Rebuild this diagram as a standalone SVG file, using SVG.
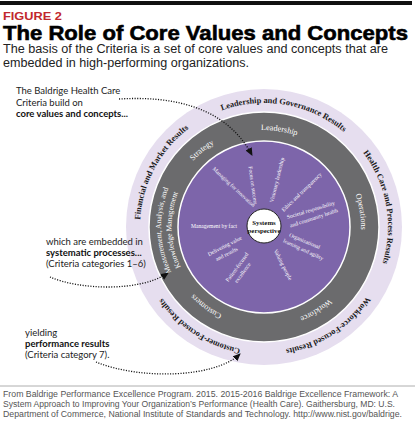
<svg xmlns="http://www.w3.org/2000/svg" width="415" height="425" viewBox="0 0 415 425">
<style>
.ann{font-family:Lato,"Open Sans",sans-serif;font-size:9.5px;fill:#222}
.annb{font-weight:bold;fill:#111}
.outer{font-family:"Liberation Serif",serif;font-weight:bold;font-size:8.4px;fill:#1a1a1a}
.gray{font-family:"Liberation Serif",serif;font-size:8.2px;fill:#fff}
.inner{font-family:"Liberation Serif",serif;font-size:5.6px;fill:#fff}
.foot{font-family:"Liberation Sans",Arial,sans-serif;font-size:8.3px;fill:#555}
.dot{fill:none;stroke:#111;stroke-width:1.3;stroke-dasharray:1.1 1.5}
</style>
<defs>
<marker id="ah" markerUnits="userSpaceOnUse" markerWidth="9" markerHeight="8" refX="7" refY="3.5" orient="auto"><path d="M0,0 L8,3.5 L0,7 z" fill="#111"/></marker>
<path id="T124" d="M264,103 A124,124 0 1 1 264,351 A124,124 0 1 1 264,103"/>
<path id="B124" d="M264,351 A124,124 0 1 1 264,103 A124,124 0 1 1 264,351"/>
<path id="T97" d="M264,130 A97,97 0 1 1 264,324 A97,97 0 1 1 264,130"/>
<path id="B97" d="M264,324 A97,97 0 1 1 264,130 A97,97 0 1 1 264,324"/>
<path id="B103" d="M264,330 A103,103 0 1 1 264,124 A103,103 0 1 1 264,330"/>
<path id="B92" d="M264,319.5 A92.5,92.5 0 1 1 264,134.5 A92.5,92.5 0 1 1 264,319.5"/>
</defs>
<rect width="415" height="425" fill="#fff"/>
<g id="header">
<rect x="0" y="1" width="412" height="4" fill="#111"/>
<text x="3" y="20" font-family="Liberation Sans,Arial,sans-serif" font-weight="bold" font-size="10.5" fill="#c1272d" textLength="59" lengthAdjust="spacingAndGlyphs">FIGURE 2</text>
<text x="3" y="40" font-family="Liberation Sans,Arial,sans-serif" font-weight="bold" font-size="21" fill="#000" stroke="#000" stroke-width="0.6" textLength="405" lengthAdjust="spacingAndGlyphs">The Role of Core Values and Concepts</text>
<text x="3" y="53" font-family="Liberation Sans,Arial,sans-serif" font-size="12" fill="#222" textLength="385" lengthAdjust="spacingAndGlyphs">The basis of the Criteria is a set of core values and concepts that are</text>
<text x="3" y="67" font-family="Liberation Sans,Arial,sans-serif" font-size="12" fill="#222" textLength="246" lengthAdjust="spacingAndGlyphs">embedded in high-performing organizations.</text>
</g>
<g id="rings">
<circle cx="264" cy="227" r="138" fill="#e6deef"/>
<circle cx="264" cy="227" r="115" fill="#6b6b6d" stroke="#fff" stroke-width="1.5"/>
<circle cx="264" cy="227" r="86" fill="#7d65aa" stroke="#fff" stroke-width="1.5"/>
</g>
<g id="results-labels" class="outer" text-anchor="middle">
<text><textPath href="#B124" startOffset="52.78%">Leadership and Governance Results</textPath></text>
<text><textPath href="#T124" startOffset="22.22%">Health Care and Process Results</textPath></text>
<text><textPath href="#T124" startOffset="40.83%">Workforce-Focused Results</textPath></text>
<text><textPath href="#T124" startOffset="59.17%">Customer-Focused Results</textPath></text>
<text><textPath href="#B124" startOffset="32.78%">Financial and Market Results</textPath></text>
</g>
<g id="process-labels" class="gray" text-anchor="middle">
<text><textPath href="#B97" startOffset="52.5%">Leadership</textPath></text>
<text><textPath href="#B97" startOffset="39.17%">Strategy</textPath></text>
<text><textPath href="#T97" startOffset="22.5%">Operations</textPath></text>
<text><textPath href="#T97" startOffset="41.11%">Workforce</textPath></text>
<text><textPath href="#T97" startOffset="60%">Customers</textPath></text>
<text font-size="7.6"><textPath href="#B103" startOffset="24.44%">Measurement, Analysis, and</textPath></text>
<text font-size="7.6"><textPath href="#B92" startOffset="24.44%">Knowledge Management</textPath></text>
</g>
<g id="core-values" class="inner" text-anchor="middle" dominant-baseline="middle">
<text transform="translate(233.5,187.5) rotate(43)">Managing for innovation</text>
<text transform="translate(252.5,185.5) rotate(82)">Focus on success</text>
<text transform="translate(277.5,180) rotate(-76)">Visionary leadership</text>
<text transform="translate(302,192.5) rotate(-44)">Ethics and transparency</text>
<text transform="translate(311,210.5) rotate(-17)">Societal responsibility</text>
<text transform="translate(314,218.5) rotate(-18)">and community health</text>
<text transform="translate(304.5,241.5) rotate(23)">Organizational</text>
<text transform="translate(303,250) rotate(25)">learning and agility</text>
<text transform="translate(282.5,265) rotate(63)">Valuing people</text>
<text transform="translate(237.5,267.5) rotate(-54)">Patient-focused</text>
<text transform="translate(243,273) rotate(-54)">excellence</text>
<text transform="translate(225,246.5) rotate(-27)">Delivering value</text>
<text transform="translate(227,254.5) rotate(-27)">and results</text>
<text transform="translate(214,227)">Management by fact</text>
</g>
<g id="systems-perspective">
<circle cx="264" cy="226" r="17" fill="#fff" stroke="#222" stroke-width="1"/>
<text x="264" y="224.5" text-anchor="middle" font-family="Liberation Serif,serif" font-weight="bold" font-size="6.8" fill="#111">Systems</text>
<text x="264" y="232.5" text-anchor="middle" font-family="Liberation Serif,serif" font-weight="bold" font-size="6.8" fill="#111">perspective</text>
</g>
<g id="annotation-core" class="ann">
<text x="16" y="94.3">The Baldrige Health Care</text>
<text x="16" y="105.5">Criteria build on</text>
<text x="16" y="116.7" class="annb">core values and concepts...</text>
</g>
<g id="annotation-processes" class="ann">
<text x="46" y="245">which are embedded in</text>
<text x="46" y="256" class="annb">systematic processes...</text>
<text x="46" y="267">(Criteria categories 1–6)</text>
</g>
<g id="annotation-results" class="ann">
<text x="25" y="336">yielding</text>
<text x="25" y="347" class="annb">performance results</text>
<text x="25" y="358">(Criteria category 7).</text>
</g>
<g id="connectors">
<path class="dot" d="M119,99 C170,96 225,105 252,155" marker-end="url(#ah)"/>
<path class="dot" d="M50,277 C80,290 140,292 168,273" marker-end="url(#ah)"/>
<path class="dot" d="M96,362 C140,380 215,378 240,354" marker-end="url(#ah)"/>
</g>
<g id="footer">
<line x1="0" y1="386" x2="415" y2="386" stroke="#999" stroke-width="0.8"/>
<text class="foot" x="3" y="397" textLength="395" lengthAdjust="spacingAndGlyphs">From Baldrige Performance Excellence Program. 2015. 2015-2016 Baldrige Excellence Framework: A</text>
<text class="foot" x="3" y="407" textLength="392" lengthAdjust="spacingAndGlyphs">System Approach to Improving Your Organization’s Performance (Health Care). Gaithersburg, MD: U.S.</text>
<text class="foot" x="3" y="417" textLength="399" lengthAdjust="spacingAndGlyphs">Department of Commerce, National Institute of Standards and Technology. http://www.nist.gov/baldrige.</text>
</g>
</svg>
